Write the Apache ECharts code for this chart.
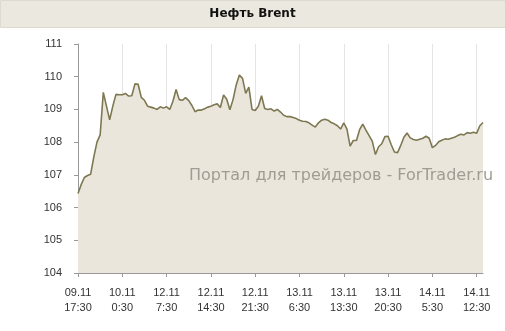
<!DOCTYPE html>
<html>
<head>
<meta charset="utf-8">
<script src="https://cdn.jsdelivr.net/npm/echarts@6/dist/echarts.min.js"></script>
<style>
html,body{margin:0;padding:0;background:#fff;}
#c{width:505px;height:331px;}
</style>
</head>
<body>
<div id="c"></div>
<script>
var titleText = 'Нефть Brent';
var watermark = 'Портал для трейдеров - ForTrader.ru';
var tickLabels = ['09.11\n17:30','10.11\n0:30','12.11\n7:30','12.11\n14:30','12.11\n21:30','13.11\n6:30','13.11\n13:30','13.11\n20:30','14.11\n5:30','14.11\n12:30'];
var prices = [
106.43,106.7,106.92,106.98,107.02,107.55,108.0,108.22,109.52,109.1,
108.68,109.1,109.46,109.45,109.45,109.49,109.41,109.42,109.78,109.77,
109.37,109.28,109.1,109.07,109.04,109.0,109.08,109.04,109.08,109.0,
109.25,109.61,109.3,109.28,109.36,109.27,109.12,108.93,108.98,108.98,
109.02,109.07,109.1,109.14,109.17,109.06,109.44,109.31,108.99,109.3,
109.75,110.05,109.95,109.49,109.68,109.0,108.97,109.1,109.42,109.03,
109.0,109.02,108.95,109.0,108.92,108.82,108.78,108.78,108.75,108.72,
108.67,108.64,108.63,108.59,108.52,108.46,108.59,108.67,108.7,108.67,
108.6,108.56,108.5,108.4,108.59,108.4,107.88,108.05,108.05,108.38,
108.55,108.37,108.2,108.03,107.62,107.86,107.95,108.17,108.18,107.92,
107.7,107.68,107.9,108.15,108.28,108.13,108.08,108.06,108.09,108.12,
108.18,108.12,107.83,107.9,108.01,108.06,108.1,108.09,108.12,108.15,
108.2,108.24,108.22,108.29,108.27,108.3,108.27,108.5,108.6
];
var yMin = 104, yMax = 111, yStep = 1;
var tickEvery = 14;

var categories = prices.map(function(v, i){
  return (i % tickEvery === 0) ? tickLabels[i / tickEvery] : '';
});

var chart = echarts.init(document.getElementById('c'));
chart.setOption({
  animation: false,
  textStyle: { fontFamily: 'Liberation Sans' },
  graphic: [
    { type: 'rect', left: 0, top: 0, z: -1, shape: { width: 505, height: 27 }, style: { fill: '#ebe8e0', stroke: '#dedad0', lineWidth: 1 } },
    { type: 'text', left: 'center', top: 8, z: 5, style: { text: titleText, font: 'bold 12px "DejaVu Sans"', fill: '#111' } },
    { type: 'text', left: 189, top: 168, z: 50, style: { text: watermark, font: '16px "DejaVu Sans"', fill: '#a09c94' } }
  ],
  grid: { left: 78, right: 22, top: 44, bottom: 58, containLabel: false },
  xAxis: {
    type: 'category',
    data: categories,
    boundaryGap: false,
    axisLine: { show: true, lineStyle: { color: '#999', width: 1 } },
    axisTick: { show: true, interval: function(i){ return i % tickEvery === 0; }, length: 4, lineStyle: { color: '#999' } },
    axisLabel: { interval: function(i){ return i % tickEvery === 0; }, color: '#333', fontSize: 11, margin: 12, lineHeight: 15 },
    splitLine: { show: true, interval: function(i){ return i % tickEvery === 0 && i > 0; }, lineStyle: { color: '#e4e4e4', width: 1 } }
  },
  yAxis: {
    type: 'value',
    min: yMin, max: yMax, interval: yStep,
    axisLine: { show: true, lineStyle: { color: '#999', width: 1 } },
    axisTick: { show: true, length: 4, lineStyle: { color: '#999' } },
    axisLabel: { color: '#333', fontSize: 11, margin: 16 },
    splitLine: { show: false }
  },
  series: [{
    type: 'line',
    data: prices,
    symbol: 'none',
    lineStyle: { color: '#7d7852', width: 1.6 },
    areaStyle: { color: '#ebe6dc', opacity: 1 },
    z: 2
  }]
});
</script>
</body>
</html>
